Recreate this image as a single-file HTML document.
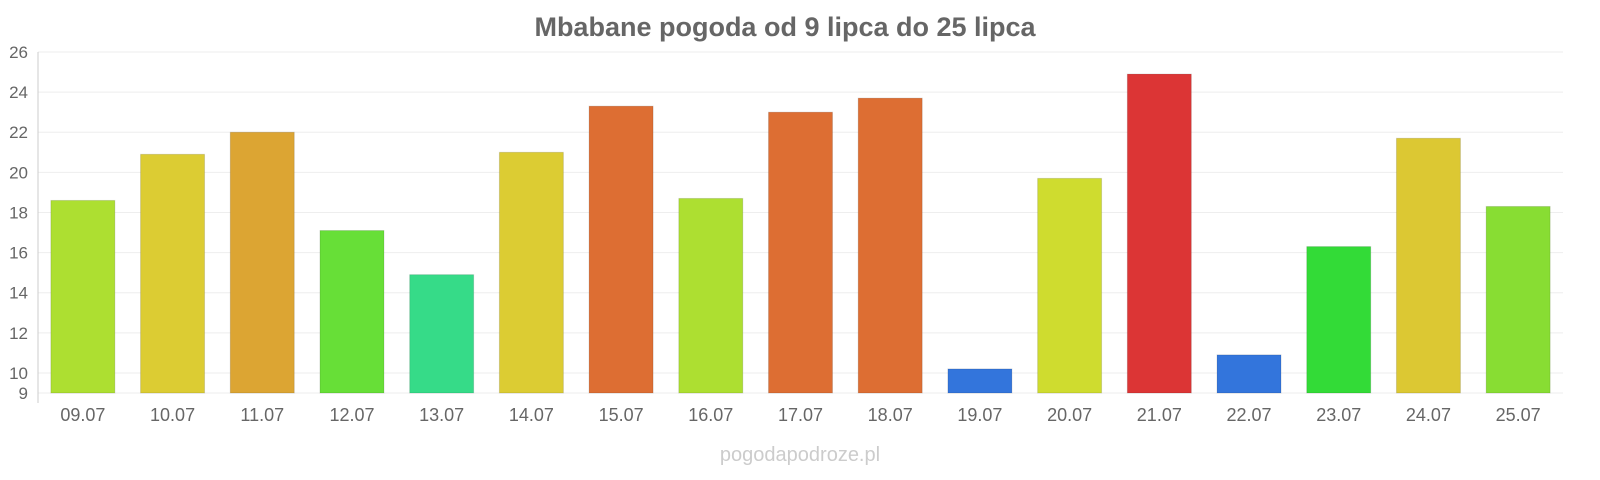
<!DOCTYPE html>
<html><head><meta charset="utf-8"><style>
html,body{margin:0;padding:0;background:#fff;}
svg{display:block;font-family:"Liberation Sans",Arial,sans-serif;}
</style></head><body>
<svg id="chart" width="1600" height="480">
<text x="785" y="36" text-anchor="middle" font-size="27" font-weight="bold" fill="#666">Mbabane pogoda od 9 lipca do 25 lipca</text>
<g id="grid"></g>
<g id="yaxis"></g>
<g id="bars"></g>
<g id="xaxis"></g>
<text x="800" y="461" text-anchor="middle" font-size="20" fill="#ccc">pogodapodroze.pl</text>
</svg>
<script>
const categories=["09.07","10.07","11.07","12.07","13.07","14.07","15.07","16.07","17.07","18.07","19.07","20.07","21.07","22.07","23.07","24.07","25.07"];
const values=[18.6,20.9,22.0,17.1,14.9,21.0,23.3,18.7,23.0,23.7,10.2,19.7,24.9,10.9,16.3,21.7,18.3];
const colors=["#addf31","#dccc33","#dca533","#67df37","#36db88","#dccc33","#dd6e33","#addf31","#dd6e33","#dd6e33","#3375dc","#cfdc2f","#dc3535","#3375dc","#33db37","#dcc833","#88dd33"];
const yTicks=[9,10,12,14,16,18,20,22,24,26];
const NS="http://www.w3.org/2000/svg";
const plotLeft=38,plotRight=1563,yMin=9,yMax=26,plotTop=52,plotBottom=393;
const yScale=v=>plotBottom-(v-yMin)*(plotBottom-plotTop)/(yMax-yMin);
const band=(plotRight-plotLeft)/categories.length;
const xScale=i=>plotLeft+band*i+band/2;
function mk(tag,attrs,parent){const e=document.createElementNS(NS,tag);for(const k in attrs)e.setAttribute(k,attrs[k]);parent.appendChild(e);return e;}
const grid=document.getElementById('grid'),ya=document.getElementById('yaxis'),bars=document.getElementById('bars'),xa=document.getElementById('xaxis');
yTicks.forEach(t=>{
 const l=mk('line',{x1:plotLeft,x2:plotRight,y1:yScale(t),y2:yScale(t),stroke:'#eee','stroke-width':1},grid);
 
 
 const tx=mk('text',{x:28,y:yScale(t)+6,'text-anchor':'end','font-size':17,fill:'#666'},ya);
 tx.textContent=t;
 
 
});
const ax=mk('line',{x1:plotLeft,x2:plotLeft,y1:plotTop,y2:403,stroke:'#ccc'},ya);


values.forEach((v,i)=>{
 const w=64;
 const r=mk('rect',{x:xScale(i)-w/2,y:yScale(v),width:w,height:plotBottom-yScale(v),fill:colors[i],stroke:'rgba(0,0,0,0.12)'},bars);
 
 
 const t=mk('text',{x:xScale(i),y:421,'text-anchor':'middle','font-size':18,fill:'#666'},xa);
 t.textContent=categories[i];
 
 
});
</script>
</body></html>
